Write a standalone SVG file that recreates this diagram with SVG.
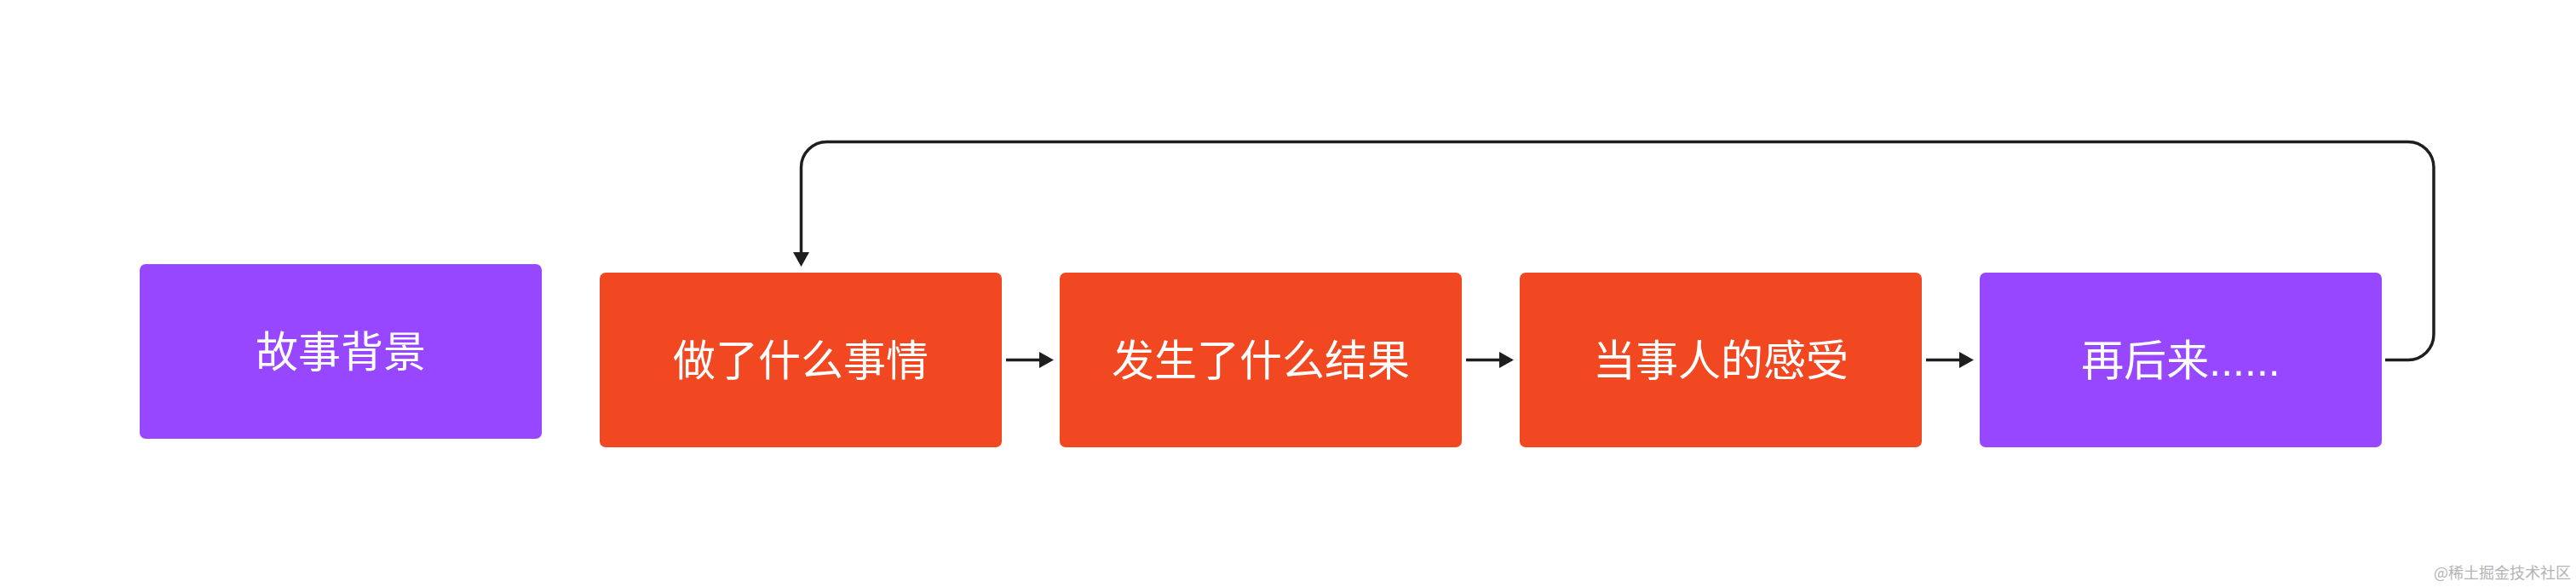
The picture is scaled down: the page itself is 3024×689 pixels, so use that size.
<svg xmlns="http://www.w3.org/2000/svg" width="3024" height="689" viewBox="0 0 3024 689">
  <style>
    .purple { fill: #9747FF; }
    .red { fill: #F24822; }
    .label { fill: #FFFFFF; font-family: "Liberation Sans", "Noto Sans CJK SC", sans-serif; font-size: 50px; text-anchor: middle; }
    .conn { fill: none; stroke: #1E1E1E; stroke-width: 3.5; }
    .wm { fill: #B4B4B4; font-family: "Noto Sans CJK SC", sans-serif; font-size: 18px; text-anchor: end; }
  </style>
  <defs>
    <marker id="arr" viewBox="0 0 17 19" refX="2" refY="9.5" markerWidth="17" markerHeight="19" markerUnits="userSpaceOnUse" orient="auto">
      <path d="M0,0 L17,9.5 L0,19 Z" fill="#1E1E1E"/>
    </marker>
  </defs>
  <rect width="3024" height="689" fill="#FFFFFF"/>

  <g id="node-background">
    <rect class="purple" x="164" y="310" width="472" height="205" rx="7"/>
    <text class="label" x="400" y="431">故事背景</text>
  </g>
  <g id="node-action">
    <rect class="red" x="704" y="320" width="472" height="205" rx="7"/>
    <text class="label" x="940" y="441">做了什么事情</text>
  </g>
  <g id="node-result">
    <rect class="red" x="1244" y="320" width="472" height="205" rx="7"/>
    <text class="label" x="1480" y="441">发生了什么结果</text>
  </g>
  <g id="node-feeling">
    <rect class="red" x="1784" y="320" width="472" height="205" rx="7"/>
    <text class="label" x="2020" y="441">当事人的感受</text>
  </g>
  <g id="node-later">
    <rect class="purple" x="2324" y="320" width="472" height="205" rx="7"/>
    <text class="label" x="2560" y="441">再后来......</text>
  </g>

  <g id="connectors">
    <line class="conn" x1="1181" y1="422.5" x2="1222" y2="422.5" marker-end="url(#arr)"/>
    <line class="conn" x1="1721" y1="422.5" x2="1762" y2="422.5" marker-end="url(#arr)"/>
    <line class="conn" x1="2261" y1="422.5" x2="2302" y2="422.5" marker-end="url(#arr)"/>
    <path class="conn" d="M2800,422.5 H2827 A30,30 0 0 0 2857,392.5 V196.5 A30,30 0 0 0 2827,166.5 H970.5 A30,30 0 0 0 940.5,196.5 V298" marker-end="url(#arr)"/>
  </g>

  <text class="wm" x="3018" y="679">@稀土掘金技术社区</text>
</svg>
